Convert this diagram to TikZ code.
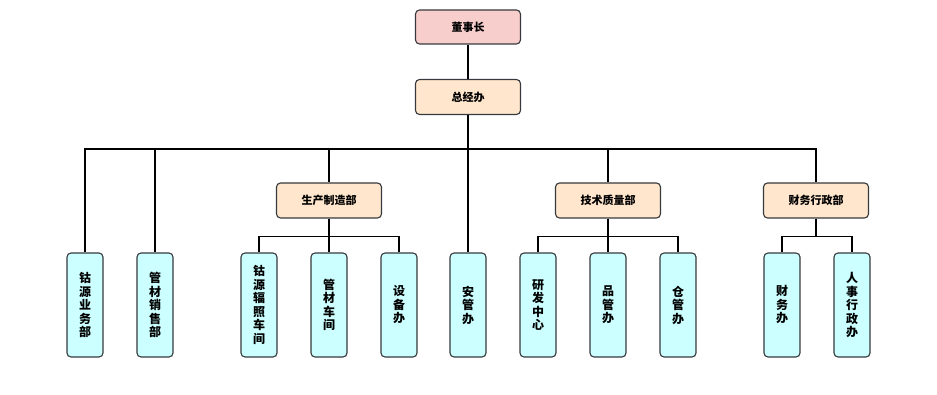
\documentclass[tikz,border=0pt]{standalone}
\usepackage{fontspec}
\newfontfamily\cjk{Noto Sans CJK SC}
\usetikzlibrary{positioning}
\definecolor{toppink}{RGB}{248,206,204}
\definecolor{deptorange}{RGB}{255,230,204}
\definecolor{leafcyan}{RGB}{204,255,255}
\definecolor{boxline}{RGB}{54,57,61}
\tikzset{
  topbox/.style  = {draw=boxline, line width=1.1pt, rounded corners=4pt, fill=toppink,
                    minimum width=105pt, minimum height=34pt, font=\cjk\bfseries\fontsize{11}{12}\selectfont},
  deptbox/.style = {draw=boxline, line width=1.1pt, rounded corners=4pt, fill=deptorange,
                    minimum width=105pt, minimum height=35pt, font=\cjk\bfseries\fontsize{11}{12}\selectfont},
  leafbox/.style = {draw=boxline, line width=1.1pt, rounded corners=4pt, fill=leafcyan,
                    minimum width=36pt, minimum height=104pt, text width=13pt, align=center,
                    inner sep=0pt, font=\cjk\bfseries\fontsize{12}{13.5}\selectfont},
  link/.style    = {line width=1.8pt, color=black},
}

\begin{document}
\begin{tikzpicture}[x=1pt, y=-1pt]
  \useasboundingbox (0,0) rectangle (937,395);
  % top of the tree
  \node[topbox] (dsz) at (468,27) {董事长};
  \node[deptbox] (zjb) at (468,97) {总经办};
  \coordinate (bus) at (468,149);
  % departments
  \node[deptbox] (sc) at (329,200.5) {生产制造部};
  \node[deptbox] (js) at (608,200.5) {技术质量部};
  \node[deptbox] (cw) at (816,200.5) {财务行政部};
  % leaf offices
  \foreach \name/\x/\lbl in {yw/85/钴\\源\\业\\务\\部, xs/155/管\\材\\销\\售\\部,
      fz/259/钴\\源\\辐\\照\\车\\间, gc/329/管\\材\\车\\间, sb/399/设\\备\\办,
      ag/468/安\\管\\办, yf/538/研\\发\\中\\心, pg/608/品\\管\\办, cg/678/仓\\管\\办,
      cwb/782/财\\务\\办, rs/852/人\\事\\行\\政\\办} {
    \node[leafbox] (\name) at (\x,305) {\lbl};
  }
  % connectors
  \draw[link] (dsz) -- (zjb);
  \draw[link] (zjb) -- (bus);
  \foreach \to in {yw, xs, sc, ag, js, cw} {
    \draw[link] (bus) -| (\to.north);
  }
  \foreach \from/\to in {sc/fz, sc/gc, sc/sb, js/yf, js/pg, js/cg, cw/cwb, cw/rs} {
    \draw[link] (\from.south) -- ++(0,18) -| (\to.north);
  }
\end{tikzpicture}
\end{document}
